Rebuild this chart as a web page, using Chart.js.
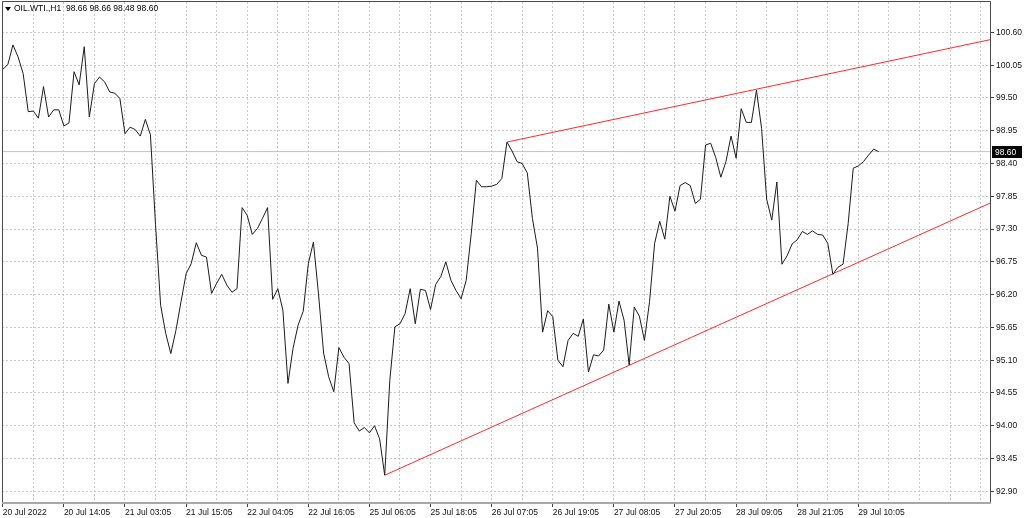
<!DOCTYPE html>
<html>
<head>
<meta charset="utf-8">
<script src="https://cdn.jsdelivr.net/npm/chart.js@4.4.0/dist/chart.umd.min.js"></script>
<style>
    html, body { margin: 0; padding: 0; background: #fff; }
    #wrap { width: 1024px; height: 518px; position: relative; }
</style>
</head>
<body>
<div id="wrap"><canvas id="priceChart"></canvas></div>
<script>
// Hourly closes, OIL.WTI H1 (one value per bar)
const closes = [
    99.98, 100.06, 100.39, 100.19, 99.91, 99.27, 99.28, 99.16, 99.69, 99.18,
    99.30, 99.30, 99.03, 99.08, 99.94, 99.72, 100.36, 99.18, 99.74, 99.85,
    99.77, 99.60, 99.58, 99.49, 98.90, 99.01, 98.97, 98.86, 99.14, 98.88,
    97.37, 96.02, 95.55, 95.21, 95.60, 96.08, 96.55, 96.72, 97.07, 96.86,
    96.83, 96.22, 96.39, 96.54, 96.36, 96.24, 96.30, 97.66, 97.53, 97.21,
    97.31, 97.48, 97.66, 96.12, 96.30, 95.94, 94.71, 95.30, 95.69, 95.92,
    96.72, 97.08, 96.21, 95.22, 94.82, 94.57, 95.31, 95.15, 95.04, 94.05,
    93.91, 93.97, 93.88, 94.00, 93.78, 93.17, 94.76, 95.66, 95.71, 95.88,
    96.30, 95.71, 96.29, 96.27, 95.95, 96.37, 96.50, 96.75, 96.44, 96.27,
    96.13, 96.44, 97.23, 98.12, 98.01, 98.01, 98.02, 98.05, 98.15, 98.76,
    98.61, 98.43, 98.40, 98.24, 97.48, 96.98, 95.57, 95.93, 95.83, 95.10,
    94.99, 95.43, 95.55, 95.50, 95.79, 94.90, 95.19, 95.17, 95.27, 96.04,
    95.57, 96.09, 95.77, 95.02, 95.99, 95.84, 95.43, 96.08, 97.06, 97.43,
    97.13, 97.85, 97.60, 98.03, 98.08, 98.03, 97.73, 97.80, 98.71, 98.74,
    98.50, 98.17, 98.43, 98.86, 98.49, 99.32, 99.09, 99.09, 99.63, 98.99,
    97.80, 97.45, 98.09, 96.71, 96.85, 97.05, 97.12, 97.26, 97.21, 97.27,
    97.21, 97.20, 97.06, 96.54, 96.66, 96.71, 97.39, 98.32, 98.36, 98.43,
    98.54, 98.64, 98.60
];

// Time labels, one every 12 bars
const timeLabels = [
    '20 Jul 2022', '20 Jul 14:05', '21 Jul 03:05', '21 Jul 15:05', '22 Jul 04:05',
    '22 Jul 16:05', '25 Jul 06:05', '25 Jul 18:05', '26 Jul 07:05', '26 Jul 19:05',
    '27 Jul 08:05', '27 Jul 20:05', '28 Jul 09:05', '28 Jul 21:05', '29 Jul 10:05'
];

const priceTicks = [
    92.90, 93.45, 94.00, 94.55, 95.10, 95.65, 96.20, 96.75,
    97.30, 97.85, 98.40, 98.95, 99.50, 100.05, 100.60
];

// Trend lines: bar index and price of each end
const upperTrendIdx = [99, 194];
const upperTrendVal = [98.76, 100.48];
const lowerTrendIdx = [75, 194];
const lowerTrendVal = [93.17, 97.74];

const lastPrice = 98.60;
const headerText = 'OIL.WTI.,H1  98.66 98.66 98.48 98.60';

const xMin = -0.15;
const xMax = 194.05;
const labelFont = { family: 'Liberation Sans', size: 8.5 };

function toPoints(xs, ys) {
    return xs.map((x, i) => ({ x: x, y: ys[i] }));
}

// Frame, header text and last price tag
const decorPlugin = {
    id: 'decor',
    afterDraw(chart) {
        const ctx = chart.ctx;
        const a = chart.chartArea;
        ctx.save();
        // frame
        ctx.strokeStyle = '#4a4a4a';
        ctx.lineWidth = 1;
        ctx.beginPath();
        ctx.moveTo(a.left + 0.5, a.bottom);
        ctx.lineTo(a.left + 0.5, a.top - 0.5);
        ctx.lineTo(a.right - 0.5, a.top - 0.5);
        ctx.lineTo(a.right - 0.5, a.bottom);
        ctx.stroke();
        ctx.strokeStyle = '#a8a8a8';
        ctx.lineWidth = 2;
        ctx.beginPath();
        ctx.moveTo(a.left, a.bottom + 1);
        ctx.lineTo(a.right, a.bottom + 1);
        ctx.stroke();

        // header
        ctx.fillStyle = '#000';
        ctx.beginPath();
        ctx.moveTo(a.left + 3, a.top + 5);
        ctx.lineTo(a.left + 9, a.top + 5);
        ctx.lineTo(a.left + 6, a.top + 9);
        ctx.closePath();
        ctx.fill();
        ctx.font = '8.5px "Liberation Sans"';
        ctx.textBaseline = 'middle';
        ctx.textAlign = 'left';
        ctx.fillText(headerText, a.left + 12, a.top + 7);

        // last price tag
        const y = Math.round(chart.scales.y.getPixelForValue(lastPrice));
        ctx.fillStyle = '#000';
        ctx.fillRect(a.right + 1, y - 6, 30, 12);
        ctx.fillStyle = '#fff';
        ctx.fillText(lastPrice.toFixed(2), a.right + 4, y + 0.5);
        ctx.restore();
    }
};

function createChart() {
    const ctx = document.getElementById('priceChart').getContext('2d');

    new Chart(ctx, {
        type: 'line',
        data: {
            datasets: [
                {
                    label: 'Close',
                    data: closes.map((v, i) => ({ x: i, y: v })),
                    borderColor: '#1c1c1c',
                    borderWidth: 1,
                    pointRadius: 0,
                    tension: 0,
                    order: 0
                },
                {
                    label: 'Upper trend',
                    data: toPoints(upperTrendIdx, upperTrendVal),
                    borderColor: '#ff2a2a',
                    borderWidth: 1,
                    pointRadius: 0,
                    order: 1
                },
                {
                    label: 'Lower trend',
                    data: toPoints(lowerTrendIdx, lowerTrendVal),
                    borderColor: '#ff2a2a',
                    borderWidth: 1,
                    pointRadius: 0,
                    order: 1
                },
                {
                    label: 'Last',
                    data: [{ x: xMin, y: lastPrice }, { x: xMax, y: lastPrice }],
                    borderColor: '#c4c4c4',
                    borderWidth: 1,
                    pointRadius: 0,
                    order: 2
                }
            ]
        },
        options: {
            responsive: true,
            maintainAspectRatio: false,
            animation: false,
            layout: { padding: { left: 2, top: 2, right: 0, bottom: 0 } },
            plugins: {
                legend: { display: false },
                tooltip: { enabled: false },
                title: { display: false }
            },
            scales: {
                x: {
                    type: 'linear',
                    min: xMin,
                    max: xMax,
                    afterBuildTicks: function(scale) {
                        const t = [];
                        for (let v = 0; v <= 192; v += 6) t.push({ value: v });
                        scale.ticks = t;
                    },
                    afterFit: function(scale) {
                        scale.height = 16;
                        scale.paddingLeft = 0;
                        scale.paddingRight = 0;
                    },
                    ticks: {
                        autoSkip: false,
                        maxRotation: 0,
                        align: 'start',
                        padding: 1,
                        color: '#111',
                        font: labelFont,
                        callback: function(value) {
                            if (value % 12 !== 0) return '';
                            return timeLabels[value / 12] || '';
                        }
                    },
                    grid: {
                        color: '#c9c9c9',
                        tickLength: 5,
                        tickColor: function(c) {
                            const v = c.tick ? c.tick.value : 1;
                            return (v % 12 === 0 && v / 12 < timeLabels.length) ? '#404040' : 'rgba(0,0,0,0)';
                        }
                    },
                    border: { display: false, dash: [2, 2] }
                },
                y: {
                    position: 'right',
                    min: 92.72,
                    max: 101.11,
                    afterBuildTicks: function(scale) {
                        scale.ticks = priceTicks.map(v => ({ value: v }));
                    },
                    afterFit: function(scale) {
                        scale.width = 33;
                        scale.paddingTop = 0;
                        scale.paddingBottom = 0;
                    },
                    ticks: {
                        padding: 2,
                        color: '#111',
                        font: labelFont,
                        callback: function(value) { return value.toFixed(2); }
                    },
                    grid: {
                        color: '#c9c9c9',
                        tickLength: 3,
                        tickColor: '#404040'
                    },
                    border: { display: false, dash: [2, 2] }
                }
            }
        },
        plugins: [decorPlugin]
    });
}

window.addEventListener('load', createChart);
</script>
</body>
</html>
